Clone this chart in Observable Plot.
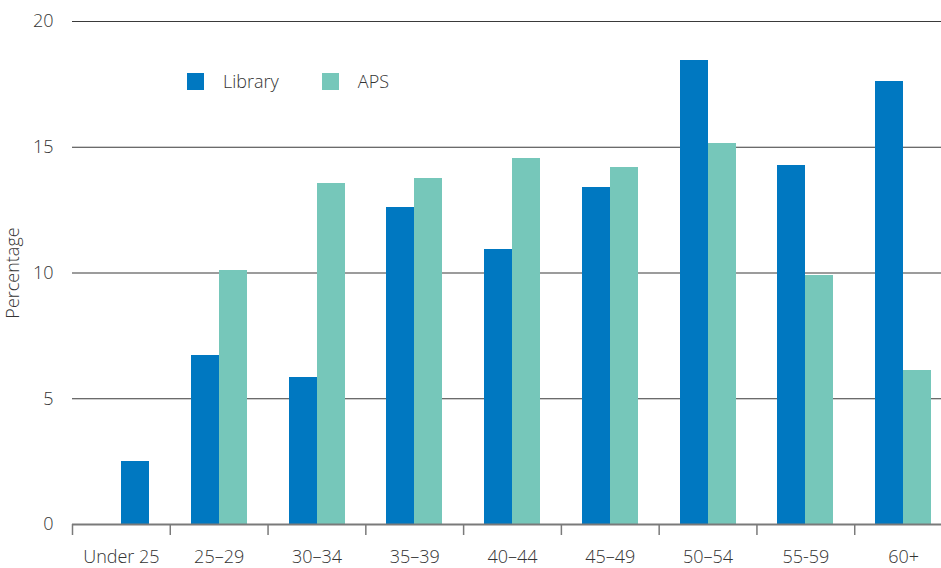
<!DOCTYPE html>
<html>
<head>
<meta charset="utf-8">
<script src="https://cdn.jsdelivr.net/npm/d3@7"></script>
<script src="https://cdn.jsdelivr.net/npm/@observablehq/plot@0.6"></script>
<style>
  html, body { margin: 0; padding: 0; background: #fff; overflow: hidden; }
  #wrap { position: relative; width: 941px; height: 568px; font-family: "Open Sans", "Liberation Sans", sans-serif; font-weight: 300; color: #333; }
  #legend { position: absolute; left: 187px; top: 72px; display: flex; align-items: center; font-size: 18px; line-height: 19px; }
  .sw { width: 17px; height: 17px; display: inline-block; margin-right: 19px; }
  .item { display: flex; align-items: center; margin-right: 43px; }
  svg rect { shape-rendering: crispEdges; }
</style>
</head>
<body>
<div id="wrap"><div id="legend"></div></div>
<script>
const categories = ["Under 25", "25–29", "30–34", "35–39", "40–44", "45–49", "50–54", "55-59", "60+"];
const library = [2.5, 6.72, 5.85, 12.6, 10.93, 13.4, 18.45, 14.27, 17.61];
const aps = [null, 10.1, 13.56, 13.76, 14.55, 14.2, 15.15, 9.9, 6.12];
const series = ["Library", "APS"];
const colors = ["#0078C1", "#76C7BA"];
const yTicks = [0, 5, 10, 15, 20];

const rows = [];
categories.forEach((c, i) => {
  if (library[i] != null) rows.push({category: c, series: "Library", value: library[i], alone: aps[i] == null});
  if (aps[i] != null) rows.push({category: c, series: "APS", value: aps[i], alone: false});
});
// first slot: Library bars with an APS partner; second slot: APS bars and lone Library bars
const slot1 = rows.filter(d => d.series === "Library" && !d.alone);
const slot2 = rows.filter(d => d.series === "APS" || d.alone);

const W = 941, H = 568, ML = 72, MR = -11;
const band = (W - MR - ML) / categories.length;
const font = "'Open Sans', 'Liberation Sans', sans-serif";

const chart = Plot.plot({
  width: W,
  height: H,
  marginLeft: ML,
  marginRight: MR,
  marginTop: 21,
  marginBottom: 44,
  style: {fontFamily: font, fontWeight: 300, fontSize: "18px", color: "#333", background: "#fff"},
  x: {domain: categories, padding: 0, round: false},
  y: {domain: [0, 20]},
  color: {domain: series, range: colors},
  marks: [
    Plot.ruleY(yTicks.filter(t => t > 0), {stroke: "#3a3a3a", strokeWidth: 1.2}),
    Plot.barY(slot1, {x: "category", y: "value", fill: "series", insetLeft: 21, insetRight: band - 49}),
    Plot.barY(slot2, {x: "category", y: "value", fill: "series", insetLeft: 49, insetRight: band - 77}),
    Plot.ruleY([0], {stroke: "#7a7a7a", strokeWidth: 2}),
    Plot.axisX({ticks: categories, tickSize: 11, text: null, dx: -band / 2, stroke: "#7a7a7a", strokeWidth: 1.5, label: null}),
    Plot.axisX({ticks: categories, tickSize: 0, tickPadding: 26, fontSize: 18, fill: "#333", label: null}),
    Plot.axisY({ticks: yTicks, tickSize: 0, tickPadding: 19, fontSize: 18, fill: "#333",
      label: "Percentage", labelAnchor: "center", labelArrow: "none", labelOffset: 66})
  ]
});
document.getElementById("wrap").prepend(chart);

const legend = document.getElementById("legend");
series.forEach((s, i) => {
  const it = document.createElement("div");
  it.className = "item";
  const sw = document.createElement("span");
  sw.className = "sw";
  sw.style.background = colors[i];
  it.appendChild(sw);
  it.appendChild(document.createTextNode(s));
  legend.appendChild(it);
});
</script>
</body>
</html>
